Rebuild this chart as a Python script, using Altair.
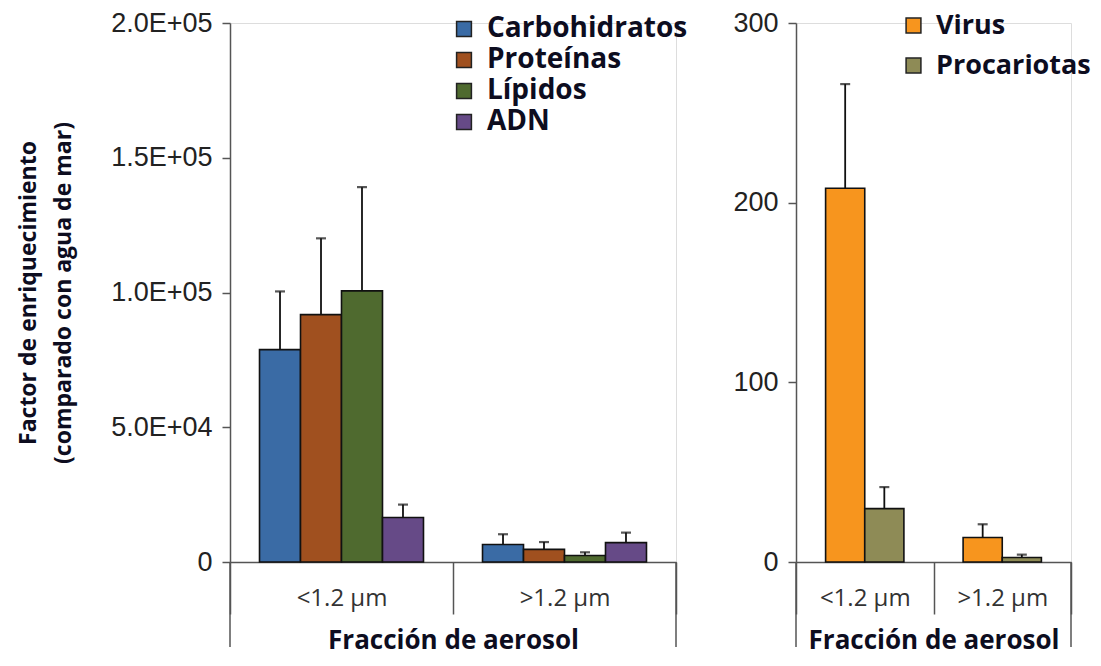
import altair as alt
import pandas as pd

fractions = ["<1.2 µm", ">1.2 µm"]

comp_names = ["Carbohidratos", "Proteínas", "Lípidos", "ADN"]
comp_colors = ["#3A6BA5", "#A0501F", "#4F6A2F", "#664A87"]
comp_small = [78800, 91800, 100600, 16500]
comp_small_err = [21600, 28300, 38500, 4800]
comp_large = [6500, 4700, 2400, 7200]
comp_large_err = [3800, 2700, 1200, 3700]

bio_names = ["Virus", "Procariotas"]
bio_colors = ["#F7951E", "#8E8B56"]
bio_small = [208, 29.7]
bio_small_err = [58, 12]
bio_large = [13.6, 2.5]
bio_large_err = [7.4, 1.6]

y_ticks_left = [0, 50000, 100000, 150000, 200000]
y_ticks_right = [0, 100, 200, 300]


def make_df(names, small, small_err, large, large_err):
    rows = []
    for n, v, e in zip(names, small, small_err):
        rows.append({"fraction": fractions[0], "group": n, "value": v, "hi": v + e})
    for n, v, e in zip(names, large, large_err):
        rows.append({"fraction": fractions[1], "group": n, "value": v, "hi": v + e})
    return pd.DataFrame(rows)


df_left = make_df(comp_names, comp_small, comp_small_err, comp_large, comp_large_err)
df_right = make_df(bio_names, bio_small, bio_small_err, bio_large, bio_large_err)

W1, W2, H = 446, 275, 539
AX = "#555555"
TXT = "#0d0d1f"


def x_axis():
    return alt.Axis(
        title="Fracción de aerosol", tickBand="extent", tickSize=52, labelPadding=-28,
        labelAngle=0, labelFont="Open Sans", labelFontSize=24, labelColor="#333333",
        titleFont="Open Sans", titleFontWeight="bold", titleFontSize=26, titleColor=TXT,
        titlePadding=13, domainColor=AX, tickColor=AX, domainWidth=1.5, tickWidth=1.5,
    )


def panel(df, names, colors, width, ydomain, yticks, yaxis_extra, legend_x, legend_y,
          row_pad, leg_font, opad):
    x_enc = alt.X("fraction:N", sort=fractions,
                  scale=alt.Scale(paddingInner=0, paddingOuter=0), axis=x_axis())
    xo = alt.XOffset("group:N", sort=names,
                     scale=alt.Scale(domain=names, paddingInner=0, paddingOuter=opad))
    yaxis = alt.Axis(values=yticks, grid=False, tickSize=8, labelFont="Liberation Sans",
                     labelFontSize=27, labelColor="#222222", labelPadding=10,
                     domainColor=AX, tickColor=AX, domainWidth=1.5, tickWidth=1.5,
                     **yaxis_extra)
    yscale = alt.Scale(domain=ydomain, nice=False, zero=True)
    color = alt.Color(
        "group:N", sort=names, scale=alt.Scale(domain=names, range=colors),
        legend=alt.Legend(title=None, orient="none", legendX=legend_x, legendY=legend_y,
                          labelFont="Open Sans", labelFontWeight="bold", labelFontSize=leg_font,
                          labelColor=TXT, labelLimit=400, symbolType="square", symbolSize=220,
                          symbolStrokeColor="#222222", symbolStrokeWidth=1.5,
                          labelOffset=9, rowPadding=row_pad, symbolOpacity=1),
    )
    bars = alt.Chart(df).mark_bar(stroke="#111111", strokeWidth=1.6, opacity=1).encode(
        x=x_enc, xOffset=xo,
        y=alt.Y("value:Q", scale=yscale, axis=yaxis),
        color=color,
    )
    err = alt.Chart(df).mark_rule(color="#111111", strokeWidth=1.8).encode(
        x=x_enc, xOffset=xo,
        y=alt.Y("value:Q", scale=yscale, axis=yaxis), y2="hi:Q",
    )
    caps = alt.Chart(df).mark_tick(color="#111111", thickness=2.2, size=10).encode(
        x=x_enc, xOffset=xo,
        y=alt.Y("hi:Q", scale=yscale, axis=yaxis),
    )
    one = pd.DataFrame({"k": [0]})
    edge_l = alt.Chart(one).mark_rule(color=AX, strokeWidth=1.5).encode(
        x=alt.value(0), y=alt.value(H), y2=alt.value(H + 85))
    edge_r = alt.Chart(one).mark_rule(color=AX, strokeWidth=1.5).encode(
        x=alt.value(width), y=alt.value(H), y2=alt.value(H + 85))
    return alt.layer(bars, err, caps, edge_l, edge_r).properties(width=width, height=H)


left = panel(
    df_left, comp_names, comp_colors, W1, [0, 200000], y_ticks_left,
    dict(
        title=["Factor de enriquecimiento", "(comparado con agua de mar)"],
        labelExpr="datum.value == 0 ? '0' : (datum.value >= 100000 ? format(datum.value/100000, '.1f') + 'E+05' : format(datum.value/10000, '.1f') + 'E+04')",
        titleFont="Open Sans", titleFontWeight="bold", titleFontSize=23,
        titleLineHeight=35, titlePadding=35, titleColor=TXT,
    ),
    220, -8, 3, 28, 0.72,
)

right = panel(
    df_right, bio_names, bio_colors, W2, [0, 300], y_ticks_right,
    dict(title=None),
    104, -11, 12, 27, 0.756,
)

chart = alt.hconcat(left, right, spacing=43).resolve_scale(
    x="independent", y="independent", color="independent", xOffset="independent"
).properties(
    padding={"left": 9, "top": 0, "right": 0, "bottom": 2}
).configure_view(stroke=None).configure(background="white")

chart.save("out.html", embed_options={"renderer": "svg", "actions": False})
